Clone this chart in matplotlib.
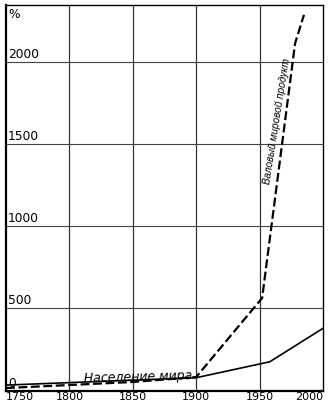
import matplotlib
matplotlib.use("Agg")
import matplotlib.pyplot as plt
import matplotlib.transforms as mtransforms

# Data
pop_years = [1750, 1900, 1958, 2000]
pop_values = [33, 78, 175, 379]
gdp_years = [1750, 1850, 1900, 1952, 1978, 1985]
gdp_values = [15, 52, 82, 564, 2117, 2290]
x_ticks = [1750, 1800, 1850, 1900, 1950, 2000]
y_ticks = [0, 500, 1000, 1500, 2000]
pop_label = "Население мира"
gdp_label = "Валовый мировой продукт"

W, H = 331, 403
fig = plt.figure(figsize=(W / 100, H / 100), dpi=100)
ax = fig.add_axes([6 / W, (H - 390.5) / H, (323 - 6) / W, (390.5 - 5) / H])
ax.set_xlim(1750, 2000)
ax.set_ylim(0, 2350)

# grid
for xv in x_ticks[1:-1]:
    ax.axvline(xv, color="#333333", lw=0.9, zorder=1)
for yv in y_ticks[1:]:
    ax.axhline(yv, color="#444444", lw=0.8, zorder=1)

ax.plot(pop_years, pop_values, color="black", lw=1.2, zorder=3)
ax.plot(gdp_years, gdp_values, color="black", lw=1.6, dashes=(4, 1.6), zorder=3)

ax.set_xticks([])
ax.set_yticks([])
for s in ["left", "bottom"]:
    ax.spines[s].set_linewidth(1.6)
for s in ["top", "right"]:
    ax.spines[s].set_linewidth(1.0)

# x labels
trans = mtransforms.blended_transform_factory(ax.transData, ax.transAxes)
for xv in x_ticks:
    ha = "center"
    if xv == x_ticks[0]:
        ha = "left"
    elif xv == x_ticks[-1]:
        ha = "right"
    ax.text(xv, -0.004, str(xv), transform=trans, ha=ha, va="top",
            fontsize=8.0, family="DejaVu Sans", clip_on=False)

# y labels
trans_y = mtransforms.blended_transform_factory(ax.transAxes, ax.transData)
for yv in y_ticks:
    ax.text(0.006, yv + 6, str(yv), transform=trans_y, ha="left", va="bottom",
            fontsize=8.8, family="DejaVu Sans")
ax.text(0.006, 2330, "%", transform=trans_y, ha="left", va="top",
        fontsize=8.8, family="DejaVu Sans")

ax.text(1854, 82, pop_label, fontsize=9, style="italic", family="DejaVu Sans",
        ha="center", va="center", rotation=1.5, zorder=4)
ax.text(1963.5, 1640, gdp_label, fontsize=7.2, style="italic",
        family=["Liberation Sans Narrow", "Liberation Sans"],
        ha="center", va="center", rotation=81, zorder=4)

fig.savefig("out.png", dpi=100)
